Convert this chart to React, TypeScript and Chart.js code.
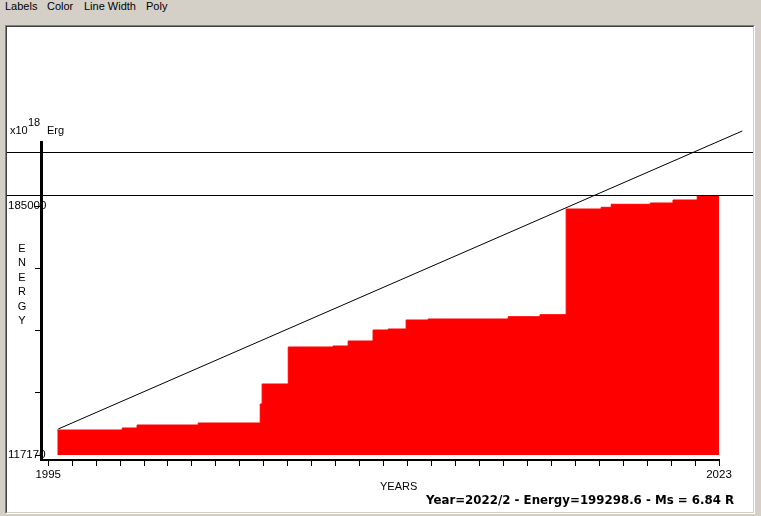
import React, { useEffect, useRef } from "react";
import { Chart, registerables } from "chart.js";

Chart.register(...registerables);

// ---- data ----
const stepYears = [
  1995.38, 1998.09, 1998.71, 2001.26, 2003.85, 2003.93, 2005.02, 2006.89, 2007.52,
  2008.56, 2009.19, 2009.94, 2010.86, 2014.2, 2015.53, 2016.62, 2018.08, 2018.5,
  2020.13, 2021.08, 2022.09, 2023.0,
];
const stepEnergy = [
  123980, 124525, 125342, 125887, 131063, 136511, 146590, 146863, 148225,
  151221, 151494, 153946, 154218, 154845, 155390, 184183, 184646, 185463,
  185817, 186635, 187850, 187850,
];
const trendYears = [1995.42, 2023.97];
const trendEnergy = [124250, 205430];
const levelLines = [199710, 187950];
const energyBase = 117170;

const yTickValues = [117170, 134127.5, 151085, 168042.5, 185000];
const yTickLabels = ["117170", "", "", "", "185000"];
const xTickYears = [
  1995, 1996, 1997, 1998, 1999, 2000, 2001, 2002, 2003, 2004, 2005, 2006, 2007, 2008,
  2009, 2010, 2011, 2012, 2013, 2014, 2015, 2016, 2017, 2018, 2019, 2020, 2021, 2022, 2023,
];
const xLabelYears = [1995, 2023];
const xLabelTexts = ["1995", "2023"];

const menuItems = ["Labels", "Color", "Line Width", "Poly"];
const menuX = [5, 47, 84, 146];
const yTitleLetters = ["E", "N", "E", "R", "G", "Y"];
const statusText = "Year=2022/2 - Energy=199298.6 - Ms = 6.84 R";

const PANEL_LEFT = 7;
const PANEL_RIGHT = 753;
const FONT = "'Liberation Sans', Arial, sans-serif";

const levelLinePlugin = {
  id: "levelLines",
  afterDatasetsDraw(chart: any) {
    const ctx = chart.ctx;
    const ys = chart.scales.y;
    ctx.save();
    ctx.strokeStyle = "#000";
    ctx.lineWidth = 1;
    levelLines.forEach((v) => {
      const y = Math.round(ys.getPixelForValue(v)) + 0.5;
      ctx.beginPath();
      ctx.moveTo(PANEL_LEFT, y);
      ctx.lineTo(PANEL_RIGHT, y);
      ctx.stroke();
    });
    ctx.restore();
  },
};

function Txt(props: { x: number; base: number; size: number; bold?: boolean; family?: string; children: any }) {
  const top = props.base - 0.846 * props.size;
  return (
    <div
      style={{
        position: "absolute",
        left: props.x,
        top,
        fontSize: props.size,
        lineHeight: 1,
        fontFamily: props.family || FONT,
        fontWeight: props.bold ? "bold" : "normal",
        color: "#000",
        whiteSpace: "nowrap",
      }}
    >
      {props.children}
    </div>
  );
}

export default function App() {
  const ref = useRef<HTMLCanvasElement | null>(null);

  useEffect(() => {
    if (!ref.current) return;
    const chart = new Chart(ref.current, {
      type: "line",
      data: {
        datasets: [
          {
            label: "Energy",
            data: stepYears.map((x, i) => ({ x, y: stepEnergy[i] })),
            stepped: "before",
            borderColor: "#ff0000",
            borderWidth: 1,
            backgroundColor: "#ff0000",
            fill: { value: energyBase },
            pointRadius: 0,
          },
          {
            label: "Trend",
            data: trendYears.map((x, i) => ({ x, y: trendEnergy[i] })),
            borderColor: "#000",
            borderWidth: 1,
            fill: false,
            pointRadius: 0,
            clip: false,
          },
        ],
      } as any,
      options: {
        animation: false,
        responsive: false,
        maintainAspectRatio: false,
        layout: { padding: { left: 8, top: 142, right: 42, bottom: 36 } },
        plugins: {
          legend: { display: false },
          tooltip: { enabled: false },
        },
        scales: {
          x: {
            type: "linear",
            min: 1994.7,
            max: 2023,
            afterFit: (s: any) => {
              s.height = 20;
            },
            afterBuildTicks: (s: any) => {
              s.ticks = xTickYears.map((v) => ({ value: v }));
            },
            ticks: {
              autoSkip: false,
              maxRotation: 0,
              padding: 2,
              color: "#000",
              font: { family: FONT, size: 11.5 },
              callback: (v: any) => {
                const i = xLabelYears.indexOf(Number(v));
                return i >= 0 ? xLabelTexts[i] : "";
              },
            },
            grid: { drawOnChartArea: false, drawTicks: true, tickLength: 6, color: "#000", lineWidth: 1 },
            border: { display: true, color: "#000", width: 2 },
          },
          y: {
            type: "linear",
            min: 115808,
            max: 202436,
            afterFit: (s: any) => {
              s.width = 33;
            },
            afterBuildTicks: (s: any) => {
              s.ticks = yTickValues.map((v) => ({ value: v }));
            },
            ticks: {
              mirror: true,
              padding: -33,
              crossAlign: "near",
              z: -1,
              color: "#000",
              font: { family: FONT, size: 11.5 },
              callback: (v: any) => {
                const i = yTickValues.indexOf(Number(v));
                return i >= 0 ? yTickLabels[i] : "";
              },
            },
            grid: { drawOnChartArea: false, drawTicks: true, tickLength: 6, color: "#000", lineWidth: 1 },
            border: { display: true, color: "#000", width: 3, z: 1 },
          },
        },
      } as any,
      plugins: [levelLinePlugin],
    });
    return () => chart.destroy();
  }, []);

  return (
    <div
      style={{
        position: "fixed",
        left: 0,
        top: 0,
        width: 761,
        height: 516,
        background: "#d4d0c8",
        overflow: "hidden",
      }}
    >
      {menuItems.map((m, i) => (
        <Txt key={m} x={menuX[i]} base={10} size={11}>
          {m}
        </Txt>
      ))}
      <div
        style={{
          position: "absolute",
          left: 5,
          top: 25,
          width: 748,
          height: 487,
          borderTop: "1px solid #808080",
          borderLeft: "1px solid #808080",
          borderRight: "1px solid #ffffff",
          borderBottom: "1px solid #ffffff",
        }}
      >
        <div
          style={{
            width: 746,
            height: 485,
            borderTop: "1px solid #404040",
            borderLeft: "1px solid #404040",
            borderRight: "1px solid #d4d0c8",
            borderBottom: "1px solid #d4d0c8",
            background: "#fff",
          }}
        />
      </div>
      <canvas
        ref={ref}
        width={761}
        height={516}
        style={{ position: "absolute", left: 0, top: 0, width: 761, height: 516 }}
      />
      <Txt x={10} base={134} size={11}>x10</Txt>
      <Txt x={28} base={126} size={11}>18</Txt>
      <Txt x={47} base={134} size={11}>Erg</Txt>
      <div
        style={{
          position: "absolute",
          left: 16,
          top: 241,
          width: 12,
          textAlign: "center",
          fontFamily: FONT,
          fontSize: 11,
          lineHeight: "14.4px",
          color: "#000",
        }}
      >
        {yTitleLetters.map((l, i) => (
          <div key={i}>{l}</div>
        ))}
      </div>
      <Txt x={380} base={490} size={11}>YEARS</Txt>
      <Txt x={426} base={505} size={11.8} bold family="'DejaVu Sans', sans-serif">
        {statusText}
      </Txt>
    </div>
  );
}
